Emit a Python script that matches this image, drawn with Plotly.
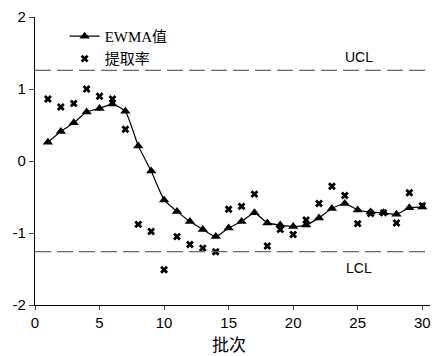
import plotly.graph_objects as go

batches = list(range(1, 31))
ewma = [0.26, 0.41, 0.53, 0.68, 0.73, 0.79, 0.69, 0.21, -0.14, -0.54,
        -0.70, -0.84, -0.95, -1.05, -0.93, -0.84, -0.72, -0.86, -0.89, -0.91,
        -0.89, -0.79, -0.66, -0.59, -0.68, -0.71, -0.72, -0.74, -0.65, -0.64]
rate = [0.86, 0.75, 0.80, 1.00, 0.90, 0.86, 0.44, -0.88, -0.98, -1.51,
        -1.05, -1.16, -1.21, -1.26, -0.67, -0.63, -0.46, -1.18, -0.95, -1.02,
        -0.82, -0.59, -0.35, -0.48, -0.87, -0.73, -0.72, -0.86, -0.44, -0.62]
ucl = 1.26
lcl = -1.26
x_ticks = [0, 5, 10, 15, 20, 25, 30]
y_ticks = [-2, -1, 0, 1, 2]
y_ticktext = ["-2", "-1", "0", "1", "2"]

fig = go.Figure()
fig.add_trace(go.Scatter(
    x=batches, y=ewma, mode="lines+markers", name="EWMA值",
    line=dict(color="black", width=1.2, shape="spline", smoothing=0.5),
    marker=dict(symbol="triangle-up", size=9, color="black"),
))
fig.add_trace(go.Scatter(
    x=batches, y=rate, mode="markers", name="提取率",
    marker=dict(symbol="x", size=7, color="black"),
))
for v in (ucl, lcl):
    fig.add_shape(type="line", xref="paper", x0=0, x1=1, yref="y", y0=v, y1=v,
                  line=dict(color="#666666", width=1.3, dash="16px,6px"))
fig.add_annotation(x=25.1, y=1.45, text="UCL", showarrow=False,
                   font=dict(family="Liberation Sans, Arial", size=14, color="black"))
fig.add_annotation(x=25.1, y=-1.49, text="LCL", showarrow=False,
                   font=dict(family="Liberation Sans, Arial", size=14, color="black"))
# x-axis title
fig.add_annotation(x=15, xref="x", y=0, yref="paper", yanchor="bottom", yshift=-52,
                   text="批次", showarrow=False, borderpad=0,
                   font=dict(family="Noto Sans CJK SC", size=17, color="black"))

fig.update_layout(
    width=434, height=356,
    margin=dict(l=35, r=4, t=17, b=51),
    plot_bgcolor="white", paper_bgcolor="white",
    showlegend=True,
    legend=dict(x=0.075, y=0.99, xanchor="left", yanchor="top",
                bgcolor="rgba(0,0,0,0)", tracegroupgap=0,
                font=dict(family="Liberation Serif, Noto Sans CJK SC", size=15, color="black")),
    xaxis=dict(range=[0, 30.6], tickvals=x_ticks, ticks="outside", ticklen=4,
               showline=True, linecolor="black", linewidth=1.2, showgrid=False, zeroline=False,
               tickfont=dict(family="Liberation Sans, Arial", size=15, color="black")),
    yaxis=dict(range=[-2, 2], tickvals=y_ticks, ticktext=y_ticktext, ticks="outside", ticklen=5,
               showline=True, linecolor="black", linewidth=1.2, showgrid=False, zeroline=False,
               tickfont=dict(family="Liberation Sans, Arial", size=15, color="black")),
)
fig.write_html("out.html")
